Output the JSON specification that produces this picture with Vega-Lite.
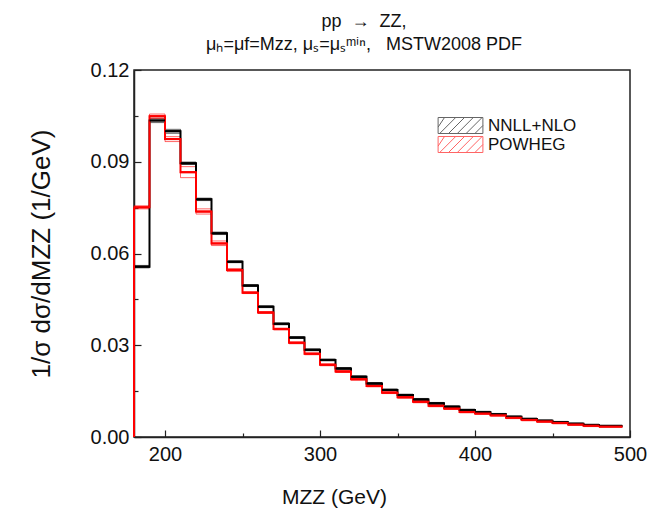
{
  "$schema": "https://vega.github.io/schema/vega-lite/v6.json",
  "width": 496,
  "height": 367,
  "autosize": {"type": "none"},
  "padding": {"left": 134, "top": 70, "right": 26, "bottom": 76},
  "background": "white",
  "config": {
    "font": "Liberation Sans",
    "view": {"stroke": "#222", "strokeWidth": 1.5},
    "axis": {"grid": false, "domainColor": "#222", "domainWidth": 1.5, "tickColor": "#222", "tickWidth": 1.2, "labelColor": "#111", "titleColor": "#111", "labelFont": "Liberation Sans", "titleFont": "Liberation Sans", "titleFontWeight": "normal"}
  },
  "title": {
    "text": ["pp\u00a0\u00a0→\u00a0\u00a0ZZ,", "μₕ=μf=Mzz, μₛ=μₛᵐⁱⁿ,\u00a0\u00a0\u00a0MSTW2008 PDF"],
    "anchor": "middle",
    "dx": -18,
    "offset": 6,
    "fontSize": 18,
    "fontWeight": "normal",
    "lineHeight": 23,
    "color": "#111"
  },
  "datasets": {
    "bins": [
      {"series": "NNLL+NLO", "x0": 180, "x1": 190, "y": 0.0557, "lo": 0.0553, "hi": 0.0561},
      {"series": "NNLL+NLO", "x0": 190, "x1": 200, "y": 0.1035, "lo": 0.1028, "hi": 0.1042},
      {"series": "NNLL+NLO", "x0": 200, "x1": 210, "y": 0.1000, "lo": 0.0993, "hi": 0.1006},
      {"series": "NNLL+NLO", "x0": 210, "x1": 220, "y": 0.0895, "lo": 0.0891, "hi": 0.0899},
      {"series": "NNLL+NLO", "x0": 220, "x1": 230, "y": 0.0777, "lo": 0.0773, "hi": 0.0781},
      {"series": "NNLL+NLO", "x0": 230, "x1": 240, "y": 0.0666, "lo": 0.0662, "hi": 0.0670},
      {"series": "NNLL+NLO", "x0": 240, "x1": 250, "y": 0.0573, "lo": 0.0570, "hi": 0.0576},
      {"series": "NNLL+NLO", "x0": 250, "x1": 260, "y": 0.0495, "lo": 0.0492, "hi": 0.0498},
      {"series": "NNLL+NLO", "x0": 260, "x1": 270, "y": 0.0426, "lo": 0.0423, "hi": 0.0429},
      {"series": "NNLL+NLO", "x0": 270, "x1": 280, "y": 0.0370, "lo": 0.0367, "hi": 0.0373},
      {"series": "NNLL+NLO", "x0": 280, "x1": 290, "y": 0.0325, "lo": 0.0322, "hi": 0.0328},
      {"series": "NNLL+NLO", "x0": 290, "x1": 300, "y": 0.0285, "lo": 0.0282, "hi": 0.0288},
      {"series": "NNLL+NLO", "x0": 300, "x1": 310, "y": 0.0252, "lo": 0.0249, "hi": 0.0255},
      {"series": "NNLL+NLO", "x0": 310, "x1": 320, "y": 0.0224, "lo": 0.0221, "hi": 0.0227},
      {"series": "NNLL+NLO", "x0": 320, "x1": 330, "y": 0.0197, "lo": 0.0194, "hi": 0.0200},
      {"series": "NNLL+NLO", "x0": 330, "x1": 340, "y": 0.0175, "lo": 0.0172, "hi": 0.0178},
      {"series": "NNLL+NLO", "x0": 340, "x1": 350, "y": 0.0154, "lo": 0.0151, "hi": 0.0157},
      {"series": "NNLL+NLO", "x0": 350, "x1": 360, "y": 0.0137, "lo": 0.0134, "hi": 0.0140},
      {"series": "NNLL+NLO", "x0": 360, "x1": 370, "y": 0.0123, "lo": 0.0120, "hi": 0.0126},
      {"series": "NNLL+NLO", "x0": 370, "x1": 380, "y": 0.0110, "lo": 0.0107, "hi": 0.0113},
      {"series": "NNLL+NLO", "x0": 380, "x1": 390, "y": 0.0099, "lo": 0.0096, "hi": 0.0102},
      {"series": "NNLL+NLO", "x0": 390, "x1": 400, "y": 0.0088, "lo": 0.0085, "hi": 0.0091},
      {"series": "NNLL+NLO", "x0": 400, "x1": 410, "y": 0.0081, "lo": 0.0078, "hi": 0.0084},
      {"series": "NNLL+NLO", "x0": 410, "x1": 420, "y": 0.0074, "lo": 0.0071, "hi": 0.0077},
      {"series": "NNLL+NLO", "x0": 420, "x1": 430, "y": 0.0066, "lo": 0.0063, "hi": 0.0069},
      {"series": "NNLL+NLO", "x0": 430, "x1": 440, "y": 0.0059, "lo": 0.0056, "hi": 0.0062},
      {"series": "NNLL+NLO", "x0": 440, "x1": 450, "y": 0.0053, "lo": 0.0050, "hi": 0.0056},
      {"series": "NNLL+NLO", "x0": 450, "x1": 460, "y": 0.0048, "lo": 0.0045, "hi": 0.0051},
      {"series": "NNLL+NLO", "x0": 460, "x1": 470, "y": 0.0043, "lo": 0.0040, "hi": 0.0046},
      {"series": "NNLL+NLO", "x0": 470, "x1": 480, "y": 0.0039, "lo": 0.0036, "hi": 0.0042},
      {"series": "NNLL+NLO", "x0": 480, "x1": 495, "y": 0.0036, "lo": 0.0033, "hi": 0.0039},
      {"series": "POWHEG", "x0": 180, "x1": 190, "y": 0.0751, "lo": 0.0746, "hi": 0.0756},
      {"series": "POWHEG", "x0": 190, "x1": 200, "y": 0.1049, "lo": 0.1042, "hi": 0.1056},
      {"series": "POWHEG", "x0": 200, "x1": 210, "y": 0.0974, "lo": 0.0966, "hi": 0.0982},
      {"series": "POWHEG", "x0": 210, "x1": 220, "y": 0.0866, "lo": 0.0848, "hi": 0.0884},
      {"series": "POWHEG", "x0": 220, "x1": 230, "y": 0.0737, "lo": 0.0729, "hi": 0.0746},
      {"series": "POWHEG", "x0": 230, "x1": 240, "y": 0.0633, "lo": 0.0626, "hi": 0.0641},
      {"series": "POWHEG", "x0": 240, "x1": 250, "y": 0.0546, "lo": 0.0541, "hi": 0.0551},
      {"series": "POWHEG", "x0": 250, "x1": 260, "y": 0.0472, "lo": 0.0469, "hi": 0.0475},
      {"series": "POWHEG", "x0": 260, "x1": 270, "y": 0.0407, "lo": 0.0404, "hi": 0.0410},
      {"series": "POWHEG", "x0": 270, "x1": 280, "y": 0.0353, "lo": 0.0350, "hi": 0.0356},
      {"series": "POWHEG", "x0": 280, "x1": 290, "y": 0.0308, "lo": 0.0305, "hi": 0.0311},
      {"series": "POWHEG", "x0": 290, "x1": 300, "y": 0.0272, "lo": 0.0269, "hi": 0.0275},
      {"series": "POWHEG", "x0": 300, "x1": 310, "y": 0.0236, "lo": 0.0233, "hi": 0.0239},
      {"series": "POWHEG", "x0": 310, "x1": 320, "y": 0.0214, "lo": 0.0211, "hi": 0.0217},
      {"series": "POWHEG", "x0": 320, "x1": 330, "y": 0.0189, "lo": 0.0186, "hi": 0.0192},
      {"series": "POWHEG", "x0": 330, "x1": 340, "y": 0.0167, "lo": 0.0164, "hi": 0.0170},
      {"series": "POWHEG", "x0": 340, "x1": 350, "y": 0.0145, "lo": 0.0142, "hi": 0.0148},
      {"series": "POWHEG", "x0": 350, "x1": 360, "y": 0.0130, "lo": 0.0127, "hi": 0.0133},
      {"series": "POWHEG", "x0": 360, "x1": 370, "y": 0.0115, "lo": 0.0112, "hi": 0.0118},
      {"series": "POWHEG", "x0": 370, "x1": 380, "y": 0.0102, "lo": 0.0099, "hi": 0.0105},
      {"series": "POWHEG", "x0": 380, "x1": 390, "y": 0.0093, "lo": 0.0090, "hi": 0.0096},
      {"series": "POWHEG", "x0": 390, "x1": 400, "y": 0.0082, "lo": 0.0079, "hi": 0.0085},
      {"series": "POWHEG", "x0": 400, "x1": 410, "y": 0.0077, "lo": 0.0074, "hi": 0.0080},
      {"series": "POWHEG", "x0": 410, "x1": 420, "y": 0.0071, "lo": 0.0068, "hi": 0.0074},
      {"series": "POWHEG", "x0": 420, "x1": 430, "y": 0.0063, "lo": 0.0060, "hi": 0.0066},
      {"series": "POWHEG", "x0": 430, "x1": 440, "y": 0.0056, "lo": 0.0053, "hi": 0.0059},
      {"series": "POWHEG", "x0": 440, "x1": 450, "y": 0.0051, "lo": 0.0048, "hi": 0.0054},
      {"series": "POWHEG", "x0": 450, "x1": 460, "y": 0.0046, "lo": 0.0043, "hi": 0.0049},
      {"series": "POWHEG", "x0": 460, "x1": 470, "y": 0.0041, "lo": 0.0038, "hi": 0.0044},
      {"series": "POWHEG", "x0": 470, "x1": 480, "y": 0.0037, "lo": 0.0034, "hi": 0.0040},
      {"series": "POWHEG", "x0": 480, "x1": 495, "y": 0.0034, "lo": 0.0031, "hi": 0.0037}
    ]
  },
  "data": {"name": "bins"},
  "encoding": {
    "x": {"field": "x0", "type": "quantitative", "scale": {"domain": [180, 500], "nice": false, "zero": false},
      "axis": {"orient": "bottom", "title": "MZZ (GeV)", "values": [200, 250, 300, 350, 400, 450, 500],
        "labelExpr": "datum.value % 100 === 0 ? datum.label : ''",
        "tickSize": {"condition": {"test": "datum.value % 100 === 0", "value": -7}, "value": -4},
        "labelPadding": 14, "labelFontSize": 20, "titleFontSize": 21, "titlePadding": 22, "labelFlush": false,
        "titleX": 200, "titleAlign": "center"}},
    "y": {"type": "quantitative", "scale": {"domain": [0, 0.12], "nice": false},
      "axis": {"orient": "left", "title": "1/σ dσ/dMZZ (1/GeV)", "values": [0, 0.015, 0.03, 0.045, 0.06, 0.075, 0.09, 0.105, 0.12],
        "labelExpr": "abs(datum.value*100/3 - round(datum.value*100/3)) < 0.001 ? format(datum.value, '.2f') : ''",
        "tickSize": {"condition": {"test": "abs(datum.value*100/3 - round(datum.value*100/3)) < 0.001", "value": -7}, "value": -4},
        "labelPadding": 12, "labelFontSize": 20, "titleFontSize": 26, "titlePadding": 36}},
    "color": {"field": "series", "type": "nominal", "scale": {"domain": ["NNLL+NLO", "POWHEG"], "range": ["#000000", "#ff0000"]},
      "legend": {"orient": "none", "legendX": 318, "legendY": 47, "title": null, "labelFontSize": 17, "labelColor": "#111",
        "symbolSize": 256, "symbolStrokeWidth": 1, "symbolOpacity": 0.6, "rowPadding": -5, "labelOffset": 19,
        "symbolType": "M-2.8,-1H2.8V1H-2.8Z M-2.8,0.2L-2,-1 M-2.6,1L-0.6,-1 M-1.5,1L0.5,-1 M-0.4,1L1.6,-1 M0.7,1L2.7,-1 M1.8,1L2.8,0"}}
  },
  "layer": [
    {
      "mark": {"type": "rect", "filled": false, "strokeWidth": 1, "strokeOpacity": 0.6},
      "encoding": {
        "x2": {"field": "x1"},
        "y": {"field": "lo", "type": "quantitative"},
        "y2": {"field": "hi"}
      }
    },
    {
      "mark": {"type": "line", "interpolate": "step-after", "strokeWidth": 2},
      "encoding": {
        "y": {"field": "y", "type": "quantitative"}
      }
    },
    {
      "mark": {"type": "rule", "strokeWidth": 2},
      "encoding": {
        "x2": {"field": "x1"},
        "y": {"field": "y", "type": "quantitative"}
      }
    },
    {
      "transform": [{"filter": "datum.x0 === 180"}],
      "mark": {"type": "rule", "strokeWidth": 2},
      "encoding": {
        "y": {"field": "y", "type": "quantitative"},
        "y2": {"datum": 0}
      }
    }
  ]
}
